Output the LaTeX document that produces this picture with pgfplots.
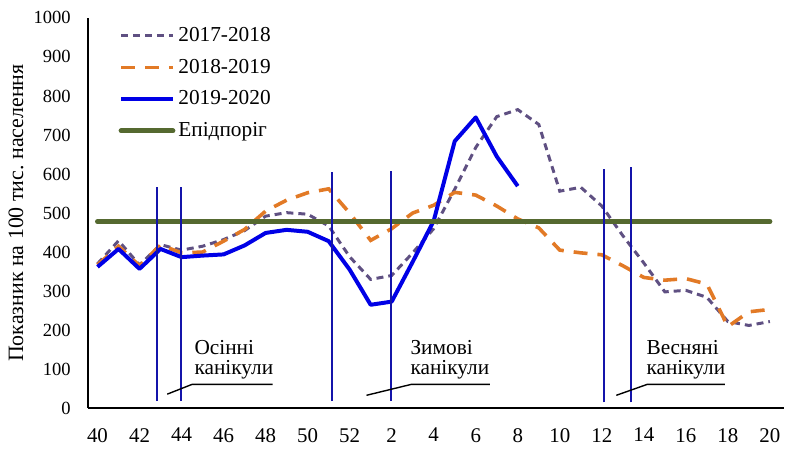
\documentclass[border=0pt]{standalone}
\usepackage{fontspec}
\setmainfont{Liberation Serif}
\usepackage{pgfplots}
\pgfplotsset{compat=1.18}
\definecolor{cpurple}{RGB}{95,80,130}
\definecolor{corange}{RGB}{226,122,38}
\definecolor{cblue}{RGB}{0,0,230}
\definecolor{cgreen}{RGB}{85,105,48}
\definecolor{cvline}{RGB}{20,20,170}
\newcommand{\annfont}{\fontsize{10.7}{12.8}\selectfont}
\begin{document}
\begin{tikzpicture}
\begin{axis}[
  scale only axis, width=349.5pt, height=196pt,
  xmin=-0.47, xmax=32.65, ymin=0, ymax=1000,
  clip=false,
  axis x line=bottom, axis y line=left,
  axis line style={-, line width=1pt, black},
  xtick={0,2,...,32},
  xticklabels={40,42,44,46,48,50,52,2,4,6,8,10,12,14,16,18,20},
  ytick={0,100,...,1000},
  major tick length=0pt,
  /pgf/number format/assume math mode=true,
  /pgf/number format/1000 sep={},
  xticklabel style={font=\fontsize{10.5}{12}\selectfont, yshift=-6.5pt},
  yticklabel style={font=\fontsize{9.3}{11}\selectfont, xshift=-5pt},
  every axis y label/.style={at={(axis description cs:-0.103,0.5)}, rotate=90, anchor=center},
  ylabel={\fontsize{11}{13}\selectfont Показник на 100 тис.\ населення},
  legend style={draw=none, fill=none, at={(rel axis cs:0.044,0.985)}, anchor=north west,
    font=\annfont, row sep=4.3pt, inner sep=0pt, nodes={inner sep=1.5pt}},
  legend cell align=left,
  legend image code/.code={\draw[#1] (0pt,0pt) -- (26pt,0pt);},
]
\addplot[color=cpurple, line width=1.5pt, dash pattern=on 3.5pt off 2.5pt] coordinates {
(0,370) (1,429) (2,367) (3,419) (4,405) (5,415) (6,432) (7,455) (8,492) (9,501)
(10,497) (11,467) (12,388) (13,330) (14,340) (15,398) (16,460) (17,561) (18,668)
(19,747) (20,765) (21,727) (22,556) (23,566) (24,518) (25,442) (26,372) (27,298)
(28,302) (29,284) (30,222) (31,212) (32,222)};
\addlegendentry{2017-2018}
\addplot[color=corange, line width=1.8pt, dash pattern=on 7pt off 5pt] coordinates {
(0,367) (1,415) (2,365) (3,418) (4,398) (5,400) (6,428) (7,458) (8,505) (9,533)
(10,552) (11,562) (12,500) (13,430) (14,460) (15,500) (16,520) (17,553) (18,546)
(19,518) (20,485) (21,462) (22,405) (23,398) (24,393) (25,365) (26,335) (27,328)
(28,332) (29,318) (30,209) (31,247) (32,253)};
\addlegendentry{2018-2019}
\addplot[color=cblue, line width=2pt, line join=round] coordinates {
(0,362) (1,408) (2,357) (3,408) (4,387) (5,391) (6,394) (7,417) (8,449) (9,457)
(10,452) (11,428) (12,355) (13,265) (14,273) (15,375) (16,480) (17,684) (18,745)
(19,645) (20,569)};
\addlegendentry{2019-2020}
\addplot[color=cgreen, line width=2.5pt, line cap=round] coordinates {(0,478) (32,478)};
\addlegendentry{Епідпоріг}
% holiday boundaries
\addplot[forget plot, color=cvline, line width=0.8pt] coordinates {(2.84,18) (2.84,566)};
\addplot[forget plot, color=cvline, line width=0.8pt] coordinates {(3.98,18) (3.98,566)};
\addplot[forget plot, color=cvline, line width=0.8pt] coordinates {(11.17,18) (11.17,604)};
\addplot[forget plot, color=cvline, line width=0.8pt] coordinates {(13.98,18) (13.98,607)};
\addplot[forget plot, color=cvline, line width=0.8pt] coordinates {(24.1,15) (24.1,612)};
\addplot[forget plot, color=cvline, line width=0.8pt] coordinates {(25.4,15) (25.4,617)};
% annotation leaders
\addplot[forget plot, black, line width=0.7pt] coordinates {(3.32,36) (4.5,61) (8.34,61)};
\addplot[forget plot, black, line width=0.7pt] coordinates {(12.8,33) (14.93,61) (18.67,61)};
\addplot[forget plot, black, line width=0.7pt] coordinates {(24.69,33) (26.16,61) (29.86,61)};
\node[anchor=base west, inner sep=0pt, font=\annfont] at (axis cs:4.6,138) {Осінні};
\node[anchor=base west, inner sep=0pt, font=\annfont] at (axis cs:4.6,87) {канікули};
\node[anchor=base west, inner sep=0pt, font=\annfont] at (axis cs:14.88,138) {Зимові};
\node[anchor=base west, inner sep=0pt, font=\annfont] at (axis cs:14.88,87) {канікули};
\node[anchor=base west, inner sep=0pt, font=\annfont] at (axis cs:26.11,138) {Весняні};
\node[anchor=base west, inner sep=0pt, font=\annfont] at (axis cs:26.11,87) {канікули};
\coordinate (bbA) at (rel axis cs:-0.1259,-0.0944);
\coordinate (bbB) at (rel axis cs:1,1.0459);
\end{axis}
\path (bbA) rectangle (bbB);
\end{tikzpicture}
\end{document}
